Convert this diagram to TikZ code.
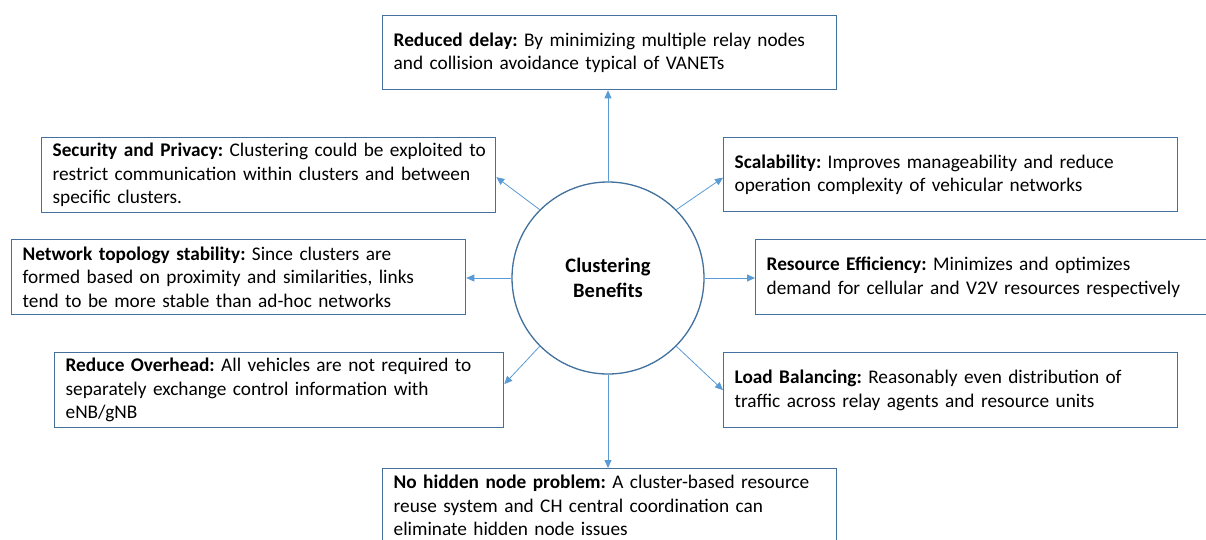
\documentclass[tikz,border=0pt]{standalone}
\usepackage{fontspec}
\setmainfont{Carlito}
\frenchspacing
\usetikzlibrary{arrows.meta}
\definecolor{edgeblue}{HTML}{41719C}
\definecolor{linkblue}{HTML}{5B9BD5}
\tikzset{
  benefit/.style={draw=edgeblue, line width=1.3pt, rectangle, anchor=north west,
    align=left, inner xsep=11pt, inner ysep=0pt, minimum height=74pt,
    font=\fontsize{19.3}{23.5}\selectfont},
  hubnode/.style={draw=edgeblue, line width=1.3pt, circle, minimum size=192pt,
    align=center, inner sep=0pt, font=\fontsize{20.5}{24.5}\selectfont\bfseries},
  link/.style={draw=linkblue, line width=0.8pt,
    -{Triangle[length=8pt,width=7pt]}}
}
\begin{document}
\begin{tikzpicture}[x=1pt,y=-1pt]
  \useasboundingbox (0,0) rectangle (1206,540);
  \clip (0,0) rectangle (1206,540);
  \fill[white] (0,0) rectangle (1206,540);

  % central hub
  \node[hubnode] (hub) at (608,278) {Clustering\\Benefits};

  % benefit boxes
  \node[benefit, text width=432pt] (delay) at (382,15)
    {\textbf{Reduced delay:} By minimizing multiple relay nodes\\and collision avoidance typical of VANETs};
  \node[benefit, text width=432pt, minimum height=75pt] (secur) at (41,137)
    {\mbox{\textbf{Security and Privacy:} Clustering could be exploited to}\\restrict communication within clusters and between\\specific clusters.};
  \node[benefit, text width=432pt, minimum height=75pt] (topo) at (11,239)
    {\textbf{Network topology stability:} Since clusters are\\formed based on proximity and similarities, links\\tend to be more stable than ad-hoc networks};
  \node[benefit, text width=427pt, minimum height=75pt] (overhead) at (54,352)
    {\textbf{Reduce Overhead:} All vehicles are not required to\\separately exchange control information with\\eNB/gNB};
  \node[benefit, text width=432pt] (scal) at (723,137)
    {\textbf{Scalability:} Improves manageability and reduce\\operation complexity of vehicular networks};
  \node[benefit, text width=440pt, minimum height=75pt] (resource) at (755,239)
    {\textbf{Resource Efficiency:} Minimizes and optimizes\\demand for cellular and V2V resources respectively};
  \node[benefit, text width=432pt, minimum height=75pt] (load) at (723,352)
    {\textbf{Load Balancing:} Reasonably even distribution of\\traffic across relay agents and resource units};
  \node[benefit, text width=432pt] (hidden) at (382,468)
    {\textbf{No hidden node problem:} A cluster-based resource\\reuse system and CH central coordination can\\eliminate hidden node issues};

  % links from the hub to each benefit
  \draw[link] (hub.north) -- (hub.north |- delay.south);
  \draw[link] (hub.south) -- (hub.south |- hidden.north);
  \draw[link] (hub.west) -- (hub.west -| topo.east);
  \draw[link] (hub.east) -- (hub.east -| resource.west);
  \draw[link] (hub.135) -- ([yshift=-2pt]secur.east);
  \draw[link] (hub.45) -- ([yshift=-3pt]scal.west);
  \draw[link] (hub.225) -- ([yshift=6pt]overhead.east);
  \draw[link] (hub.315) -- (load.west);
\end{tikzpicture}
\end{document}
